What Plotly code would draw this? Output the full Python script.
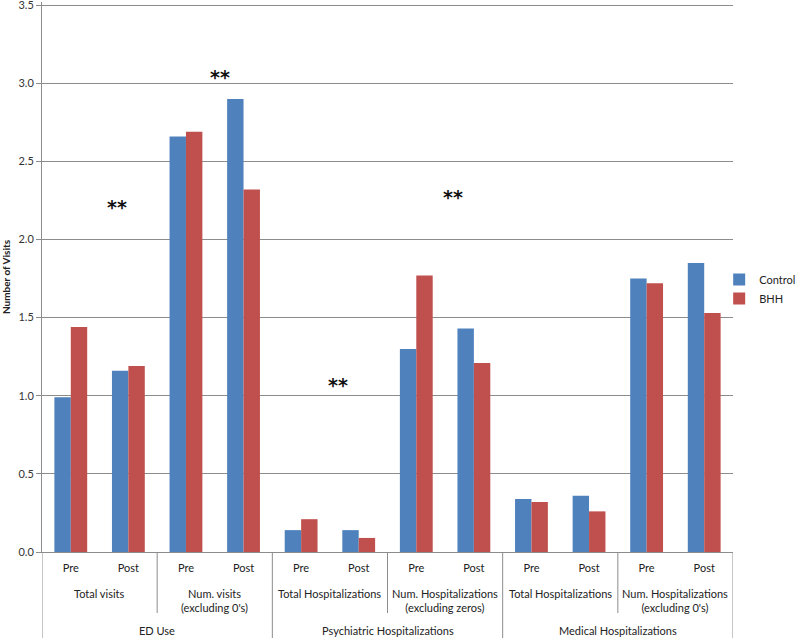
import plotly.graph_objects as go

# Data
groups = ["ED Use", "Psychiatric Hospitalizations", "Medical Hospitalizations"]
subgroups = [
    "Total visits",
    "Num. visits<br>(excluding 0's)",
    "Total Hospitalizations",
    "Num. Hospitalizations<br>(excluding zeros)",
    "Total Hospitalizations",
    "Num. Hospitalizations<br>(excluding 0's)",
]
periods = ["Pre", "Post"]

control = [0.99, 1.16, 2.66, 2.90, 0.14, 0.14, 1.30, 1.43, 0.34, 0.36, 1.75, 1.85]
bhh = [1.44, 1.19, 2.69, 2.32, 0.21, 0.09, 1.77, 1.21, 0.32, 0.26, 1.72, 1.53]

# significance markers: (slot position, height)
stars_x = [0.80, 2.59, 4.64, 6.64]
stars_y = [2.21, 3.04, 1.07, 2.27]

y_ticks = [0, 0.5, 1.0, 1.5, 2.0, 2.5, 3.0, 3.5]

BLUE = "#4F81BD"
RED = "#C0504D"
GRID = "#8C8C8C"
FONT = "Lato, 'Open Sans', sans-serif"

# one unique key per bar slot (subgroup names repeat between groups)
keys = []
tick_text = []
for s_i, sub in enumerate(subgroups):
    for p in periods:
        keys.append(f"{groups[s_i // 2]}|{sub}|{p}")
        tick_text.append(p)

fig = go.Figure()
fig.add_trace(go.Bar(x=keys, y=control, name="Control", marker=dict(color=BLUE, line=dict(width=0))))
fig.add_trace(go.Bar(x=keys, y=bhh, name="BHH", marker=dict(color=RED, line=dict(width=0))))

H = 550.0  # plot height in px
annotations = []
shapes = []

# second level labels (subgroups)
for j, sub in enumerate(subgroups):
    annotations.append(dict(
        x=2 * j + 0.5, xref="x", y=-33 / H, yref="paper",
        text=sub, showarrow=False, yanchor="top", xanchor="center",
        font=dict(size=11, color="#222"),
    ))
# third level labels (groups)
for g_i, g in enumerate(groups):
    annotations.append(dict(
        x=4 * g_i + 1.5, xref="x", y=-78 / H, yref="paper",
        text=g, showarrow=False, yanchor="middle", xanchor="center",
        font=dict(size=11, color="#222"),
    ))
# asterisks
for sx, sy in zip(stars_x, stars_y):
    annotations.append(dict(
        x=sx, xref="x", y=sy, yref="y", text="<b>**</b>", showarrow=False,
        font=dict(size=19, color="#111", family="DejaVu Sans"),
    ))

# dividers between subgroups (short) and groups (long)
for k in range(7):
    xpos = 2 * k - 0.5
    long_line = k % 2 == 0
    shapes.append(dict(
        type="line", xref="x", yref="paper", x0=xpos, x1=xpos,
        y0=0, y1=-(86 if long_line else 61) / H,
        line=dict(color=GRID, width=1),
    ))

fig.update_layout(
    width=800, height=638,
    margin=dict(l=42, r=67, t=2, b=86, autoexpand=False),
    paper_bgcolor="white", plot_bgcolor="white",
    font=dict(family=FONT, size=11, color="#222"),
    barmode="group", bargap=0.43, bargroupgap=0,
    showlegend=True,
    legend=dict(x=0.98, y=0.478, xanchor="left", yanchor="middle",
                font=dict(size=11), itemwidth=30, tracegroupgap=4,
                bgcolor="rgba(0,0,0,0)"),
    annotations=annotations,
    shapes=shapes,
    xaxis=dict(
        type="category", range=[-0.5, 11.5],
        tickmode="array", tickvals=keys, ticktext=tick_text,
        showline=True, linecolor=GRID, ticks="", showgrid=False,
        tickfont=dict(size=11), ticklabelstandoff=6,
    ),
    yaxis=dict(
        range=[0, 3.52], tickmode="array", tickvals=y_ticks, tickformat=".1f",
        showgrid=True, gridcolor=GRID, gridwidth=1, zeroline=False,
        showline=True, linecolor=GRID, ticks="outside", ticklen=5, tickcolor=GRID,
        tickfont=dict(size=11, color="#333"), ticklabeloverflow="allow",
        title=dict(text="<b>Number of Visits</b>", font=dict(size=10), standoff=6),
    ),
)

# the page body has a default 8px margin; drop it so the figure sits at 0,0
fig.write_html("out.html", config={"displayModeBar": False},
               post_script="document.body.style.margin='0';")
